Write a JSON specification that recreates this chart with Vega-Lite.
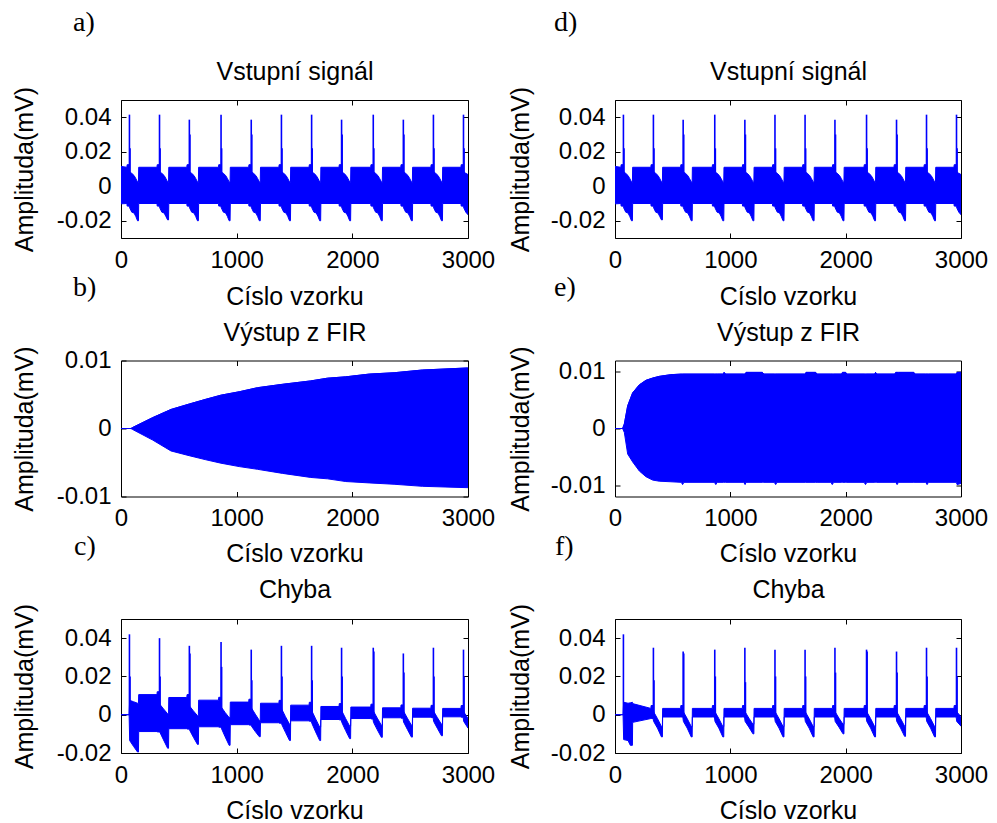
{
"$schema": "https://vega.github.io/schema/vega-lite/v6.json",
"background": "white",
"padding": {"left": 11, "top": 8, "right": 5, "bottom": 0},
"columns": 2,
"spacing": {"row": 122.5, "column": 147},
"bounds": "flush",
"align": "each",
"datasets": {
"inp_env": [
{"x":0,"lo":-0.0102,"hi":0.0115},
{"x":51,"lo":-0.0100,"hi":0.0110},{"x":53,"lo":-0.0115,"hi":0.0125},{"x":70,"lo":-0.0115,"hi":0.0125},{"x":75,"lo":-0.0125,"hi":0.0082},{"x":93,"lo":-0.0150,"hi":0.0075},{"x":113,"lo":-0.0155,"hi":0.0062},{"x":128,"lo":-0.0175,"hi":0.0045},{"x":143,"lo":-0.0200,"hi":0.0025},{"x":151,"lo":-0.0200,"hi":0.0023},{"x":153,"lo":-0.0100,"hi":0.0110},
{"x":311,"lo":-0.0100,"hi":0.0110},{"x":313,"lo":-0.0115,"hi":0.0125},{"x":330,"lo":-0.0115,"hi":0.0125},{"x":335,"lo":-0.0125,"hi":0.0082},{"x":353,"lo":-0.0150,"hi":0.0075},{"x":373,"lo":-0.0155,"hi":0.0062},{"x":388,"lo":-0.0175,"hi":0.0045},{"x":403,"lo":-0.0195,"hi":0.0025},{"x":411,"lo":-0.0195,"hi":0.0023},{"x":413,"lo":-0.0100,"hi":0.0110},
{"x":569,"lo":-0.0100,"hi":0.0110},{"x":571,"lo":-0.0115,"hi":0.0125},{"x":588,"lo":-0.0115,"hi":0.0125},{"x":593,"lo":-0.0125,"hi":0.0082},{"x":611,"lo":-0.0150,"hi":0.0075},{"x":631,"lo":-0.0155,"hi":0.0062},{"x":646,"lo":-0.0175,"hi":0.0045},{"x":661,"lo":-0.0200,"hi":0.0025},{"x":669,"lo":-0.0200,"hi":0.0023},{"x":671,"lo":-0.0100,"hi":0.0110},
{"x":843,"lo":-0.0100,"hi":0.0110},{"x":845,"lo":-0.0115,"hi":0.0125},{"x":862,"lo":-0.0115,"hi":0.0125},{"x":867,"lo":-0.0125,"hi":0.0082},{"x":885,"lo":-0.0150,"hi":0.0075},{"x":905,"lo":-0.0155,"hi":0.0062},{"x":920,"lo":-0.0175,"hi":0.0045},{"x":935,"lo":-0.0200,"hi":0.0025},{"x":943,"lo":-0.0200,"hi":0.0023},{"x":945,"lo":-0.0100,"hi":0.0110},
{"x":1104,"lo":-0.0100,"hi":0.0110},{"x":1106,"lo":-0.0115,"hi":0.0125},{"x":1123,"lo":-0.0115,"hi":0.0125},{"x":1128,"lo":-0.0125,"hi":0.0082},{"x":1146,"lo":-0.0150,"hi":0.0075},{"x":1166,"lo":-0.0155,"hi":0.0062},{"x":1181,"lo":-0.0175,"hi":0.0045},{"x":1196,"lo":-0.0200,"hi":0.0025},{"x":1204,"lo":-0.0200,"hi":0.0023},{"x":1206,"lo":-0.0100,"hi":0.0110},
{"x":1365,"lo":-0.0100,"hi":0.0110},{"x":1367,"lo":-0.0115,"hi":0.0125},{"x":1384,"lo":-0.0115,"hi":0.0125},{"x":1389,"lo":-0.0125,"hi":0.0082},{"x":1407,"lo":-0.0150,"hi":0.0075},{"x":1427,"lo":-0.0155,"hi":0.0062},{"x":1442,"lo":-0.0175,"hi":0.0045},{"x":1457,"lo":-0.0200,"hi":0.0025},{"x":1465,"lo":-0.0200,"hi":0.0023},{"x":1467,"lo":-0.0100,"hi":0.0110},
{"x":1626,"lo":-0.0100,"hi":0.0110},{"x":1628,"lo":-0.0115,"hi":0.0125},{"x":1645,"lo":-0.0115,"hi":0.0125},{"x":1650,"lo":-0.0125,"hi":0.0082},{"x":1668,"lo":-0.0150,"hi":0.0075},{"x":1688,"lo":-0.0155,"hi":0.0062},{"x":1703,"lo":-0.0175,"hi":0.0045},{"x":1718,"lo":-0.0200,"hi":0.0025},{"x":1726,"lo":-0.0200,"hi":0.0023},{"x":1728,"lo":-0.0100,"hi":0.0110},
{"x":1885,"lo":-0.0100,"hi":0.0110},{"x":1887,"lo":-0.0115,"hi":0.0125},{"x":1904,"lo":-0.0115,"hi":0.0125},{"x":1909,"lo":-0.0125,"hi":0.0082},{"x":1927,"lo":-0.0150,"hi":0.0075},{"x":1947,"lo":-0.0155,"hi":0.0062},{"x":1962,"lo":-0.0175,"hi":0.0045},{"x":1977,"lo":-0.0200,"hi":0.0025},{"x":1985,"lo":-0.0200,"hi":0.0023},{"x":1987,"lo":-0.0100,"hi":0.0110},
{"x":2159,"lo":-0.0100,"hi":0.0110},{"x":2161,"lo":-0.0115,"hi":0.0125},{"x":2178,"lo":-0.0115,"hi":0.0125},{"x":2183,"lo":-0.0125,"hi":0.0082},{"x":2201,"lo":-0.0150,"hi":0.0075},{"x":2221,"lo":-0.0155,"hi":0.0062},{"x":2236,"lo":-0.0175,"hi":0.0045},{"x":2251,"lo":-0.0200,"hi":0.0025},{"x":2259,"lo":-0.0200,"hi":0.0023},{"x":2261,"lo":-0.0100,"hi":0.0110},
{"x":2419,"lo":-0.0100,"hi":0.0110},{"x":2421,"lo":-0.0115,"hi":0.0125},{"x":2438,"lo":-0.0115,"hi":0.0125},{"x":2443,"lo":-0.0125,"hi":0.0082},{"x":2461,"lo":-0.0150,"hi":0.0075},{"x":2481,"lo":-0.0155,"hi":0.0062},{"x":2496,"lo":-0.0175,"hi":0.0045},{"x":2511,"lo":-0.0200,"hi":0.0025},{"x":2519,"lo":-0.0200,"hi":0.0023},{"x":2521,"lo":-0.0100,"hi":0.0110},
{"x":2679,"lo":-0.0100,"hi":0.0110},{"x":2681,"lo":-0.0115,"hi":0.0125},{"x":2698,"lo":-0.0115,"hi":0.0125},{"x":2703,"lo":-0.0125,"hi":0.0082},{"x":2721,"lo":-0.0150,"hi":0.0075},{"x":2741,"lo":-0.0155,"hi":0.0062},{"x":2756,"lo":-0.0175,"hi":0.0045},{"x":2771,"lo":-0.0200,"hi":0.0025},{"x":2779,"lo":-0.0200,"hi":0.0023},{"x":2781,"lo":-0.0100,"hi":0.0110},
{"x":2939,"lo":-0.0100,"hi":0.0110},{"x":2941,"lo":-0.0115,"hi":0.0125},{"x":2958,"lo":-0.0115,"hi":0.0125},{"x":2963,"lo":-0.0125,"hi":0.0082},{"x":2981,"lo":-0.0150,"hi":0.0075},{"x":3000,"lo":-0.0165,"hi":0.0068}
],
"inp_spk": [
{"x":73,"top":0.0415},{"x":78,"top":0.022},{"x":333,"top":0.0415},{"x":338,"top":0.022},{"x":591,"top":0.0386},{"x":596,"top":0.030},{"x":865,"top":0.0415},{"x":870,"top":0.022},{"x":1126,"top":0.0386},{"x":1131,"top":0.030},{"x":1387,"top":0.0415},{"x":1392,"top":0.022},{"x":1648,"top":0.0415},{"x":1653,"top":0.022},{"x":1907,"top":0.0386},{"x":1912,"top":0.030},{"x":2181,"top":0.0415},{"x":2186,"top":0.022},{"x":2441,"top":0.0386},{"x":2446,"top":0.030},{"x":2701,"top":0.0415},{"x":2706,"top":0.022},{"x":2961,"top":0.0415},{"x":2966,"top":0.022}
],
"b_env": [
{"x":0,"lo":0,"hi":0},{"x":86,"lo":0,"hi":0},{"x":101,"lo":-0.00015,"hi":0.00015},{"x":274,"lo":-0.0017,"hi":0.0016},{"x":432,"lo":-0.0033,"hi":0.0028},{"x":590,"lo":-0.0040,"hi":0.0036},{"x":734,"lo":-0.0046,"hi":0.0043},{"x":864,"lo":-0.0051,"hi":0.0049},{"x":1022,"lo":-0.0056,"hi":0.0054},{"x":1180,"lo":-0.0060,"hi":0.0060},{"x":1396,"lo":-0.0066,"hi":0.0065},{"x":1641,"lo":-0.0072,"hi":0.0070},{"x":1785,"lo":-0.0074,"hi":0.0074},{"x":1943,"lo":-0.0078,"hi":0.0076},{"x":2145,"lo":-0.0080,"hi":0.0080},{"x":2361,"lo":-0.0082,"hi":0.0082},{"x":2605,"lo":-0.0085,"hi":0.0086},{"x":2994,"lo":-0.0087,"hi":0.0089},{"x":3000,"lo":-0.0087,"hi":0.0089}
],
"e_env": [
{"x":0,"lo":0,"hi":0},{"x":66,"lo":0,"hi":0},{"x":81,"lo":-0.0007,"hi":0.0008},{"x":110,"lo":-0.0045,"hi":0.0040},{"x":153,"lo":-0.0059,"hi":0.0063},{"x":211,"lo":-0.0075,"hi":0.0077},{"x":268,"lo":-0.0085,"hi":0.0085},{"x":326,"lo":-0.0091,"hi":0.0089},{"x":384,"lo":-0.0093,"hi":0.0092},{"x":485,"lo":-0.0094,"hi":0.0095},{"x":575,"lo":-0.0095,"hi":0.0096},{"x":586,"lo":-0.0099,"hi":0.0096},{"x":598,"lo":-0.0095,"hi":0.0096},{"x":862,"lo":-0.0095,"hi":0.0096},{"x":874,"lo":-0.0099,"hi":0.0096},{"x":886,"lo":-0.0095,"hi":0.0096},{"x":940,"lo":-0.0095,"hi":0.0096},{"x":946,"lo":-0.0095,"hi":0.0099},{"x":958,"lo":-0.0095,"hi":0.0096},{"x":1116,"lo":-0.0095,"hi":0.0096},{"x":1128,"lo":-0.0099,"hi":0.0096},{"x":1136,"lo":-0.0095,"hi":0.0099},{"x":1278,"lo":-0.0095,"hi":0.0099},{"x":1290,"lo":-0.0095,"hi":0.0096},{"x":1381,"lo":-0.0095,"hi":0.0096},{"x":1393,"lo":-0.0099,"hi":0.0096},{"x":1405,"lo":-0.0095,"hi":0.0096},{"x":1650,"lo":-0.0095,"hi":0.0096},{"x":1656,"lo":-0.0095,"hi":0.0099},{"x":1740,"lo":-0.0095,"hi":0.0099},{"x":1752,"lo":-0.0095,"hi":0.0096},{"x":1872,"lo":-0.0095,"hi":0.0096},{"x":1884,"lo":-0.0099,"hi":0.0096},{"x":1896,"lo":-0.0095,"hi":0.0096},{"x":1966,"lo":-0.0095,"hi":0.0096},{"x":1972,"lo":-0.0095,"hi":0.0099},{"x":2000,"lo":-0.0095,"hi":0.0099},{"x":2010,"lo":-0.0095,"hi":0.0096},{"x":2160,"lo":-0.0095,"hi":0.0096},{"x":2172,"lo":-0.0099,"hi":0.0096},{"x":2184,"lo":-0.0095,"hi":0.0096},{"x":2253,"lo":-0.0095,"hi":0.0096},{"x":2259,"lo":-0.0095,"hi":0.0099},{"x":2268,"lo":-0.0095,"hi":0.0096},{"x":2428,"lo":-0.0095,"hi":0.0096},{"x":2434,"lo":-0.0095,"hi":0.0099},{"x":2446,"lo":-0.0099,"hi":0.0099},{"x":2458,"lo":-0.0095,"hi":0.0099},{"x":2591,"lo":-0.0095,"hi":0.0099},{"x":2601,"lo":-0.0095,"hi":0.0096},{"x":2694,"lo":-0.0095,"hi":0.0096},{"x":2706,"lo":-0.0099,"hi":0.0096},{"x":2718,"lo":-0.0095,"hi":0.0096},{"x":2960,"lo":-0.0095,"hi":0.0096},{"x":2966,"lo":-0.0099,"hi":0.0099},{"x":3000,"lo":-0.0097,"hi":0.0099}
],
"c_env": [
{"x":0,"lo":0,"hi":0},{"x":70,"lo":0,"hi":0},{"x":75,"lo":-0.0135,"hi":0.0075},{"x":108,"lo":-0.0165,"hi":0.0068},{"x":143,"lo":-0.0195,"hi":0.0060},{"x":151,"lo":-0.0195,"hi":0.0060},{"x":153,"lo":-0.0088,"hi":0.0105},
{"x":311,"lo":-0.0088,"hi":0.0105},{"x":313,"lo":-0.0090,"hi":0.0120},{"x":330,"lo":-0.0090,"hi":0.0120},{"x":335,"lo":-0.0090,"hi":0.0055},{"x":368,"lo":-0.0132,"hi":0.0030},{"x":403,"lo":-0.0175,"hi":0.0005},{"x":411,"lo":-0.0175,"hi":0.0005},{"x":413,"lo":-0.0073,"hi":0.0090},
{"x":569,"lo":-0.0073,"hi":0.0090},{"x":571,"lo":-0.0075,"hi":0.0105},{"x":588,"lo":-0.0075,"hi":0.0105},{"x":593,"lo":-0.0080,"hi":0.0045},{"x":626,"lo":-0.0118,"hi":0.0020},{"x":661,"lo":-0.0155,"hi":-0.0005},{"x":669,"lo":-0.0155,"hi":-0.0005},{"x":671,"lo":-0.0063,"hi":0.0076},
{"x":843,"lo":-0.0063,"hi":0.0076},{"x":845,"lo":-0.0065,"hi":0.0091},{"x":862,"lo":-0.0065,"hi":0.0091},{"x":867,"lo":-0.0070,"hi":0.0040},{"x":900,"lo":-0.0115,"hi":0.0012},{"x":935,"lo":-0.0160,"hi":-0.0015},{"x":943,"lo":-0.0160,"hi":-0.0015},{"x":945,"lo":-0.0052,"hi":0.0066},
{"x":1104,"lo":-0.0052,"hi":0.0066},{"x":1106,"lo":-0.0054,"hi":0.0081},{"x":1123,"lo":-0.0054,"hi":0.0081},{"x":1128,"lo":-0.0060,"hi":0.0035},{"x":1161,"lo":-0.0088,"hi":0.0003},{"x":1196,"lo":-0.0115,"hi":-0.0030},{"x":1204,"lo":-0.0115,"hi":-0.0030},{"x":1206,"lo":-0.0042,"hi":0.0060},
{"x":1365,"lo":-0.0042,"hi":0.0060},{"x":1367,"lo":-0.0044,"hi":0.0075},{"x":1384,"lo":-0.0044,"hi":0.0075},{"x":1389,"lo":-0.0050,"hi":0.0030},{"x":1422,"lo":-0.0092,"hi":-0.0010},{"x":1457,"lo":-0.0135,"hi":-0.0050},{"x":1465,"lo":-0.0135,"hi":-0.0050},{"x":1467,"lo":-0.0032,"hi":0.0050},
{"x":1626,"lo":-0.0032,"hi":0.0050},{"x":1628,"lo":-0.0034,"hi":0.0065},{"x":1645,"lo":-0.0034,"hi":0.0065},{"x":1650,"lo":-0.0045,"hi":0.0020},{"x":1683,"lo":-0.0090,"hi":-0.0022},{"x":1718,"lo":-0.0135,"hi":-0.0065},{"x":1726,"lo":-0.0135,"hi":-0.0065},{"x":1728,"lo":-0.0025,"hi":0.0043},
{"x":1885,"lo":-0.0025,"hi":0.0043},{"x":1887,"lo":-0.0027,"hi":0.0058},{"x":1904,"lo":-0.0027,"hi":0.0058},{"x":1909,"lo":-0.0040,"hi":0.0020},{"x":1942,"lo":-0.0083,"hi":-0.0020},{"x":1977,"lo":-0.0125,"hi":-0.0060},{"x":1985,"lo":-0.0125,"hi":-0.0060},{"x":1987,"lo":-0.0020,"hi":0.0040},
{"x":2159,"lo":-0.0020,"hi":0.0040},{"x":2161,"lo":-0.0022,"hi":0.0055},{"x":2178,"lo":-0.0022,"hi":0.0055},{"x":2183,"lo":-0.0040,"hi":0.0018},{"x":2216,"lo":-0.0079,"hi":-0.0018},{"x":2251,"lo":-0.0118,"hi":-0.0055},{"x":2259,"lo":-0.0118,"hi":-0.0055},{"x":2261,"lo":-0.0016,"hi":0.0036},
{"x":2419,"lo":-0.0016,"hi":0.0036},{"x":2421,"lo":-0.0018,"hi":0.0051},{"x":2438,"lo":-0.0018,"hi":0.0051},{"x":2443,"lo":-0.0038,"hi":0.0018},{"x":2476,"lo":-0.0077,"hi":-0.0018},{"x":2511,"lo":-0.0117,"hi":-0.0055},{"x":2519,"lo":-0.0117,"hi":-0.0055},{"x":2521,"lo":-0.0013,"hi":0.0034},
{"x":2679,"lo":-0.0013,"hi":0.0034},{"x":2681,"lo":-0.0015,"hi":0.0049},{"x":2698,"lo":-0.0015,"hi":0.0049},{"x":2703,"lo":-0.0035,"hi":0.0018},{"x":2736,"lo":-0.0072,"hi":-0.0016},{"x":2771,"lo":-0.0110,"hi":-0.0050},{"x":2779,"lo":-0.0110,"hi":-0.0050},{"x":2781,"lo":-0.0011,"hi":0.0033},
{"x":2939,"lo":-0.0011,"hi":0.0033},{"x":2941,"lo":-0.0013,"hi":0.0048},{"x":2958,"lo":-0.0013,"hi":0.0048},{"x":2963,"lo":-0.0035,"hi":0.0015},{"x":3000,"lo":-0.0070,"hi":-0.0020}
],
"c_spk": [
{"x":73,"top":0.042},{"x":78,"top":0.020},{"x":333,"top":0.040},{"x":338,"top":0.020},{"x":591,"top":0.036},{"x":596,"top":0.032},{"x":865,"top":0.038},{"x":870,"top":0.025},{"x":1126,"top":0.034},{"x":1131,"top":0.018},{"x":1387,"top":0.036},{"x":1392,"top":0.020},{"x":1648,"top":0.036},{"x":1653,"top":0.018},{"x":1907,"top":0.035},{"x":1912,"top":0.020},{"x":2181,"top":0.035},{"x":2186,"top":0.033},{"x":2441,"top":0.032},{"x":2446,"top":0.022},{"x":2701,"top":0.035},{"x":2706,"top":0.020},{"x":2961,"top":0.034},{"x":2966,"top":0.020}
],
"f_env": [
{"x":0,"lo":0,"hi":0},{"x":70,"lo":0,"hi":0},{"x":75,"lo":-0.0130,"hi":0.0065},{"x":113,"lo":-0.0135,"hi":0.0060},{"x":133,"lo":-0.0160,"hi":0.0062},{"x":151,"lo":-0.0160,"hi":0.0065},{"x":153,"lo":-0.0040,"hi":0.0058},
{"x":311,"lo":-0.0020,"hi":0.0033},{"x":313,"lo":-0.0020,"hi":0.0048},{"x":330,"lo":-0.0020,"hi":0.0048},{"x":335,"lo":-0.0035,"hi":0.0015},{"x":368,"lo":-0.0070,"hi":-0.0020},{"x":403,"lo":-0.0116,"hi":-0.0062},{"x":411,"lo":-0.0116,"hi":-0.0062},{"x":413,"lo":-0.0012,"hi":0.0033},
{"x":569,"lo":-0.0012,"hi":0.0033},{"x":571,"lo":-0.0012,"hi":0.0048},{"x":588,"lo":-0.0012,"hi":0.0048},{"x":593,"lo":-0.0035,"hi":0.0015},{"x":626,"lo":-0.0070,"hi":-0.0020},{"x":661,"lo":-0.0116,"hi":-0.0062},{"x":669,"lo":-0.0116,"hi":-0.0062},{"x":671,"lo":-0.0012,"hi":0.0033},
{"x":843,"lo":-0.0012,"hi":0.0033},{"x":845,"lo":-0.0012,"hi":0.0048},{"x":862,"lo":-0.0012,"hi":0.0048},{"x":867,"lo":-0.0035,"hi":0.0015},{"x":900,"lo":-0.0070,"hi":-0.0020},{"x":935,"lo":-0.0116,"hi":-0.0062},{"x":943,"lo":-0.0116,"hi":-0.0062},{"x":945,"lo":-0.0012,"hi":0.0033},
{"x":1104,"lo":-0.0012,"hi":0.0033},{"x":1106,"lo":-0.0012,"hi":0.0048},{"x":1123,"lo":-0.0012,"hi":0.0048},{"x":1128,"lo":-0.0035,"hi":0.0015},{"x":1161,"lo":-0.0065,"hi":-0.0018},{"x":1196,"lo":-0.0100,"hi":-0.0050},{"x":1204,"lo":-0.0100,"hi":-0.0050},{"x":1206,"lo":-0.0012,"hi":0.0033},
{"x":1365,"lo":-0.0012,"hi":0.0033},{"x":1367,"lo":-0.0012,"hi":0.0048},{"x":1384,"lo":-0.0012,"hi":0.0048},{"x":1389,"lo":-0.0035,"hi":0.0015},{"x":1422,"lo":-0.0070,"hi":-0.0020},{"x":1457,"lo":-0.0116,"hi":-0.0062},{"x":1465,"lo":-0.0116,"hi":-0.0062},{"x":1467,"lo":-0.0012,"hi":0.0033},
{"x":1626,"lo":-0.0012,"hi":0.0033},{"x":1628,"lo":-0.0012,"hi":0.0048},{"x":1645,"lo":-0.0012,"hi":0.0048},{"x":1650,"lo":-0.0035,"hi":0.0015},{"x":1683,"lo":-0.0070,"hi":-0.0020},{"x":1718,"lo":-0.0116,"hi":-0.0062},{"x":1726,"lo":-0.0116,"hi":-0.0062},{"x":1728,"lo":-0.0012,"hi":0.0033},
{"x":1885,"lo":-0.0012,"hi":0.0033},{"x":1887,"lo":-0.0012,"hi":0.0048},{"x":1904,"lo":-0.0012,"hi":0.0048},{"x":1909,"lo":-0.0035,"hi":0.0015},{"x":1942,"lo":-0.0065,"hi":-0.0018},{"x":1977,"lo":-0.0100,"hi":-0.0050},{"x":1985,"lo":-0.0100,"hi":-0.0050},{"x":1987,"lo":-0.0012,"hi":0.0033},
{"x":2159,"lo":-0.0012,"hi":0.0033},{"x":2161,"lo":-0.0012,"hi":0.0048},{"x":2178,"lo":-0.0012,"hi":0.0048},{"x":2183,"lo":-0.0035,"hi":0.0015},{"x":2216,"lo":-0.0070,"hi":-0.0020},{"x":2251,"lo":-0.0116,"hi":-0.0062},{"x":2259,"lo":-0.0116,"hi":-0.0062},{"x":2261,"lo":-0.0012,"hi":0.0033},
{"x":2419,"lo":-0.0012,"hi":0.0033},{"x":2421,"lo":-0.0012,"hi":0.0048},{"x":2438,"lo":-0.0012,"hi":0.0048},{"x":2443,"lo":-0.0035,"hi":0.0015},{"x":2476,"lo":-0.0070,"hi":-0.0020},{"x":2511,"lo":-0.0113,"hi":-0.0060},{"x":2519,"lo":-0.0113,"hi":-0.0060},{"x":2521,"lo":-0.0012,"hi":0.0033},
{"x":2679,"lo":-0.0012,"hi":0.0033},{"x":2681,"lo":-0.0012,"hi":0.0048},{"x":2698,"lo":-0.0012,"hi":0.0048},{"x":2703,"lo":-0.0035,"hi":0.0015},{"x":2736,"lo":-0.0070,"hi":-0.0020},{"x":2771,"lo":-0.0116,"hi":-0.0062},{"x":2779,"lo":-0.0116,"hi":-0.0062},{"x":2781,"lo":-0.0012,"hi":0.0033},
{"x":2939,"lo":-0.0012,"hi":0.0033},{"x":2941,"lo":-0.0012,"hi":0.0048},{"x":2958,"lo":-0.0012,"hi":0.0048},{"x":2963,"lo":-0.0035,"hi":0.0015},{"x":3000,"lo":-0.0060,"hi":-0.0010}
],
"f_spk": [
{"x":73,"top":0.042},{"x":333,"top":0.035},{"x":338,"top":0.018},{"x":591,"top":0.033},{"x":596,"top":0.032},{"x":865,"top":0.034},{"x":870,"top":0.020},{"x":1126,"top":0.035},{"x":1131,"top":0.017},{"x":1387,"top":0.034},{"x":1392,"top":0.020},{"x":1648,"top":0.034},{"x":1653,"top":0.020},{"x":1907,"top":0.035},{"x":1912,"top":0.022},{"x":2181,"top":0.034},{"x":2186,"top":0.033},{"x":2441,"top":0.033},{"x":2446,"top":0.022},{"x":2701,"top":0.035},{"x":2706,"top":0.020},{"x":2961,"top":0.035},{"x":2966,"top":0.020}
]
},
"concat": [
 {"width": 347, "height": 138, "title": {"text": "a)", "dx": -48, "offset": 23},
  "resolve": {"axis": {"x": "independent", "y": "independent"}},
  "layer": [
   {"data": {"name": "inp_env"}, "mark": {"type": "area", "color": "#0000ff", "stroke": "#0000ff", "strokeWidth": 1, "clip": true},
    "encoding": {
     "x": {"field": "x", "type": "quantitative", "scale": {"domain": [0, 3000], "nice": false, "zero": false}, "axis": {"orient": "bottom", "values": [0, 1000, 2000, 3000], "format": "d", "title": "Císlo vzorku", "titleX": 173.5, "titleY": 58.5, "titleBaseline": "middle", "titleAlign": "center"}},
     "y": {"field": "lo", "type": "quantitative", "scale": {"domain": [-0.03, 0.05], "nice": false, "zero": false}, "axis": {"orient": "left", "values": [-0.02, 0, 0.02, 0.04], "labelExpr": "datum.value == 0 ? '0' : (datum.value < 0 ? '-' : '') + format(abs(datum.value), '.2f')", "title": "Amplituda(mV)", "titleX": -97, "titleY": 69, "titleBaseline": "middle", "titleAlign": "center", "titleAngle": -90}},
     "y2": {"field": "hi"}}},
   {"data": {"name": "inp_spk"}, "mark": {"type": "rule", "color": "#0000ff", "strokeWidth": 1.6, "clip": true},
    "encoding": {
     "x": {"field": "x", "type": "quantitative", "scale": {"domain": [0, 3000], "nice": false, "zero": false}, "axis": {"orient": "top", "values": [0, 1000, 2000, 3000], "labels": false, "title": "Vstupní signál", "titleX": 173.5, "titleY": -28.5, "titleBaseline": "middle", "titleAlign": "center"}},
     "y": {"field": "top", "type": "quantitative", "scale": {"domain": [-0.03, 0.05], "nice": false, "zero": false}, "axis": {"orient": "right", "values": [-0.02, 0, 0.02, 0.04], "labels": false, "title": null}},
     "y2": {"datum": 0}}}
  ]},
 {"width": 346, "height": 138, "title": {"text": "d)", "dx": -61, "offset": 23},
  "resolve": {"axis": {"x": "independent", "y": "independent"}},
  "layer": [
   {"data": {"name": "inp_env"}, "mark": {"type": "area", "color": "#0000ff", "stroke": "#0000ff", "strokeWidth": 1, "clip": true},
    "encoding": {
     "x": {"field": "x", "type": "quantitative", "scale": {"domain": [0, 3000], "nice": false, "zero": false}, "axis": {"orient": "bottom", "values": [0, 1000, 2000, 3000], "format": "d", "title": "Císlo vzorku", "titleX": 173, "titleY": 58.5, "titleBaseline": "middle", "titleAlign": "center"}},
     "y": {"field": "lo", "type": "quantitative", "scale": {"domain": [-0.03, 0.05], "nice": false, "zero": false}, "axis": {"orient": "left", "values": [-0.02, 0, 0.02, 0.04], "labelExpr": "datum.value == 0 ? '0' : (datum.value < 0 ? '-' : '') + format(abs(datum.value), '.2f')", "title": "Amplituda(mV)", "titleX": -95, "titleY": 69, "titleBaseline": "middle", "titleAlign": "center", "titleAngle": -90}},
     "y2": {"field": "hi"}}},
   {"data": {"name": "inp_spk"}, "mark": {"type": "rule", "color": "#0000ff", "strokeWidth": 1.6, "clip": true},
    "encoding": {
     "x": {"field": "x", "type": "quantitative", "scale": {"domain": [0, 3000], "nice": false, "zero": false}, "axis": {"orient": "top", "values": [0, 1000, 2000, 3000], "labels": false, "title": "Vstupní signál", "titleX": 173, "titleY": -28.5, "titleBaseline": "middle", "titleAlign": "center"}},
     "y": {"field": "top", "type": "quantitative", "scale": {"domain": [-0.03, 0.05], "nice": false, "zero": false}, "axis": {"orient": "right", "values": [-0.02, 0, 0.02, 0.04], "labels": false, "title": null}},
     "y2": {"datum": 0}}}
  ]},
 {"width": 347, "height": 136, "title": {"text": "b)", "dx": -48, "offset": 18},
  "resolve": {"axis": {"x": "independent", "y": "independent"}},
  "layer": [
   {"data": {"name": "b_env"}, "mark": {"type": "area", "color": "#0000ff", "stroke": "#0000ff", "strokeWidth": 1, "clip": true},
    "encoding": {
     "x": {"field": "x", "type": "quantitative", "scale": {"domain": [0, 3000], "nice": false, "zero": false}, "axis": {"orient": "bottom", "values": [0, 1000, 2000, 3000], "format": "d", "title": "Císlo vzorku", "titleX": 173.5, "titleY": 56.5, "titleBaseline": "middle", "titleAlign": "center"}},
     "y": {"field": "lo", "type": "quantitative", "scale": {"domain": [-0.01, 0.01], "nice": false, "zero": false}, "axis": {"orient": "left", "values": [-0.01, 0, 0.01], "labelExpr": "datum.value == 0 ? '0' : (datum.value < 0 ? '-' : '') + format(abs(datum.value), '.2f')", "title": "Amplituda(mV)", "titleX": -97, "titleY": 68, "titleBaseline": "middle", "titleAlign": "center", "titleAngle": -90}},
     "y2": {"field": "hi"}}},
   {"data": {"name": "b_env"}, "mark": {"type": "line", "color": "#0000ff", "strokeWidth": 1, "clip": true},
    "encoding": {
     "x": {"field": "x", "type": "quantitative", "scale": {"domain": [0, 3000], "nice": false, "zero": false}, "axis": {"orient": "top", "values": [0, 1000, 2000, 3000], "labels": false, "title": "Výstup z FIR", "titleX": 173.5, "titleY": -28.5, "titleBaseline": "middle", "titleAlign": "center"}},
     "y": {"field": "hi", "type": "quantitative", "scale": {"domain": [-0.01, 0.01], "nice": false, "zero": false}, "axis": {"orient": "right", "values": [-0.01, 0, 0.01], "labels": false, "title": null}}}}
  ]},
 {"width": 346, "height": 136, "title": {"text": "e)", "dx": -61, "offset": 18},
  "resolve": {"axis": {"x": "independent", "y": "independent"}},
  "layer": [
   {"data": {"name": "e_env"}, "mark": {"type": "area", "color": "#0000ff", "stroke": "#0000ff", "strokeWidth": 1, "clip": true},
    "encoding": {
     "x": {"field": "x", "type": "quantitative", "scale": {"domain": [0, 3000], "nice": false, "zero": false}, "axis": {"orient": "bottom", "values": [0, 1000, 2000, 3000], "format": "d", "title": "Císlo vzorku", "titleX": 173, "titleY": 56.5, "titleBaseline": "middle", "titleAlign": "center"}},
     "y": {"field": "lo", "type": "quantitative", "scale": {"domain": [-0.012, 0.012], "nice": false, "zero": false}, "axis": {"orient": "left", "values": [-0.01, 0, 0.01], "labelExpr": "datum.value == 0 ? '0' : (datum.value < 0 ? '-' : '') + format(abs(datum.value), '.2f')", "title": "Amplituda(mV)", "titleX": -95, "titleY": 68, "titleBaseline": "middle", "titleAlign": "center", "titleAngle": -90}},
     "y2": {"field": "hi"}}},
   {"data": {"name": "e_env"}, "mark": {"type": "line", "color": "#0000ff", "strokeWidth": 1, "clip": true},
    "encoding": {
     "x": {"field": "x", "type": "quantitative", "scale": {"domain": [0, 3000], "nice": false, "zero": false}, "axis": {"orient": "top", "values": [0, 1000, 2000, 3000], "labels": false, "title": "Výstup z FIR", "titleX": 173, "titleY": -28.5, "titleBaseline": "middle", "titleAlign": "center"}},
     "y": {"field": "hi", "type": "quantitative", "scale": {"domain": [-0.012, 0.012], "nice": false, "zero": false}, "axis": {"orient": "right", "values": [-0.01, 0, 0.01], "labels": false, "title": null}}}}
  ]},
 {"width": 347, "height": 134, "title": {"text": "c)", "dx": -47, "offset": 17},
  "resolve": {"axis": {"x": "independent", "y": "independent"}},
  "layer": [
   {"data": {"name": "c_env"}, "mark": {"type": "area", "color": "#0000ff", "stroke": "#0000ff", "strokeWidth": 1, "clip": true},
    "encoding": {
     "x": {"field": "x", "type": "quantitative", "scale": {"domain": [0, 3000], "nice": false, "zero": false}, "axis": {"orient": "bottom", "values": [0, 1000, 2000, 3000], "format": "d", "title": "Císlo vzorku", "titleX": 173.5, "titleY": 57.5, "titleBaseline": "middle", "titleAlign": "center"}},
     "y": {"field": "lo", "type": "quantitative", "scale": {"domain": [-0.02, 0.05], "nice": false, "zero": false}, "axis": {"orient": "left", "values": [-0.02, 0, 0.02, 0.04], "labelExpr": "datum.value == 0 ? '0' : (datum.value < 0 ? '-' : '') + format(abs(datum.value), '.2f')", "title": "Amplituda(mV)", "titleX": -97, "titleY": 67, "titleBaseline": "middle", "titleAlign": "center", "titleAngle": -90}},
     "y2": {"field": "hi"}}},
   {"data": {"name": "c_spk"}, "mark": {"type": "rule", "color": "#0000ff", "strokeWidth": 1.6, "clip": true},
    "encoding": {
     "x": {"field": "x", "type": "quantitative", "scale": {"domain": [0, 3000], "nice": false, "zero": false}, "axis": {"orient": "top", "values": [0, 1000, 2000, 3000], "labels": false, "title": "Chyba", "titleX": 173.5, "titleY": -29.5, "titleBaseline": "middle", "titleAlign": "center"}},
     "y": {"field": "top", "type": "quantitative", "scale": {"domain": [-0.02, 0.05], "nice": false, "zero": false}, "axis": {"orient": "right", "values": [-0.02, 0, 0.02, 0.04], "labels": false, "title": null}},
     "y2": {"datum": 0}}}
  ]},
 {"width": 346, "height": 134, "title": {"text": "f)", "dx": -60, "offset": 17},
  "resolve": {"axis": {"x": "independent", "y": "independent"}},
  "layer": [
   {"data": {"name": "f_env"}, "mark": {"type": "area", "color": "#0000ff", "stroke": "#0000ff", "strokeWidth": 1, "clip": true},
    "encoding": {
     "x": {"field": "x", "type": "quantitative", "scale": {"domain": [0, 3000], "nice": false, "zero": false}, "axis": {"orient": "bottom", "values": [0, 1000, 2000, 3000], "format": "d", "title": "Císlo vzorku", "titleX": 173, "titleY": 57.5, "titleBaseline": "middle", "titleAlign": "center"}},
     "y": {"field": "lo", "type": "quantitative", "scale": {"domain": [-0.02, 0.05], "nice": false, "zero": false}, "axis": {"orient": "left", "values": [-0.02, 0, 0.02, 0.04], "labelExpr": "datum.value == 0 ? '0' : (datum.value < 0 ? '-' : '') + format(abs(datum.value), '.2f')", "title": "Amplituda(mV)", "titleX": -95, "titleY": 67, "titleBaseline": "middle", "titleAlign": "center", "titleAngle": -90}},
     "y2": {"field": "hi"}}},
   {"data": {"name": "f_spk"}, "mark": {"type": "rule", "color": "#0000ff", "strokeWidth": 1.6, "clip": true},
    "encoding": {
     "x": {"field": "x", "type": "quantitative", "scale": {"domain": [0, 3000], "nice": false, "zero": false}, "axis": {"orient": "top", "values": [0, 1000, 2000, 3000], "labels": false, "title": "Chyba", "titleX": 173, "titleY": -29.5, "titleBaseline": "middle", "titleAlign": "center"}},
     "y": {"field": "top", "type": "quantitative", "scale": {"domain": [-0.02, 0.05], "nice": false, "zero": false}, "axis": {"orient": "right", "values": [-0.02, 0, 0.02, 0.04], "labels": false, "title": null}},
     "y2": {"datum": 0}}}
  ]}
],
"config": {
 "font": "Liberation Sans",
 "view": {"stroke": "#000000", "strokeWidth": 1},
 "axis": {"grid": false, "domain": false, "tickColor": "#000000", "tickSize": -5, "tickWidth": 1, "labelColor": "#000000", "labelFont": "Liberation Sans", "labelFontSize": 24, "labelPadding": 15, "labelFlush": false, "labelOverlap": false, "labelBound": false, "titleColor": "#000000", "titleFont": "Liberation Sans", "titleFontSize": 25, "titleFontWeight": "normal"},
 "title": {"font": "Liberation Serif", "fontSize": 28, "fontWeight": "normal", "anchor": "start", "color": "#000000", "frame": "group", "baseline": "alphabetic"}
}
}
